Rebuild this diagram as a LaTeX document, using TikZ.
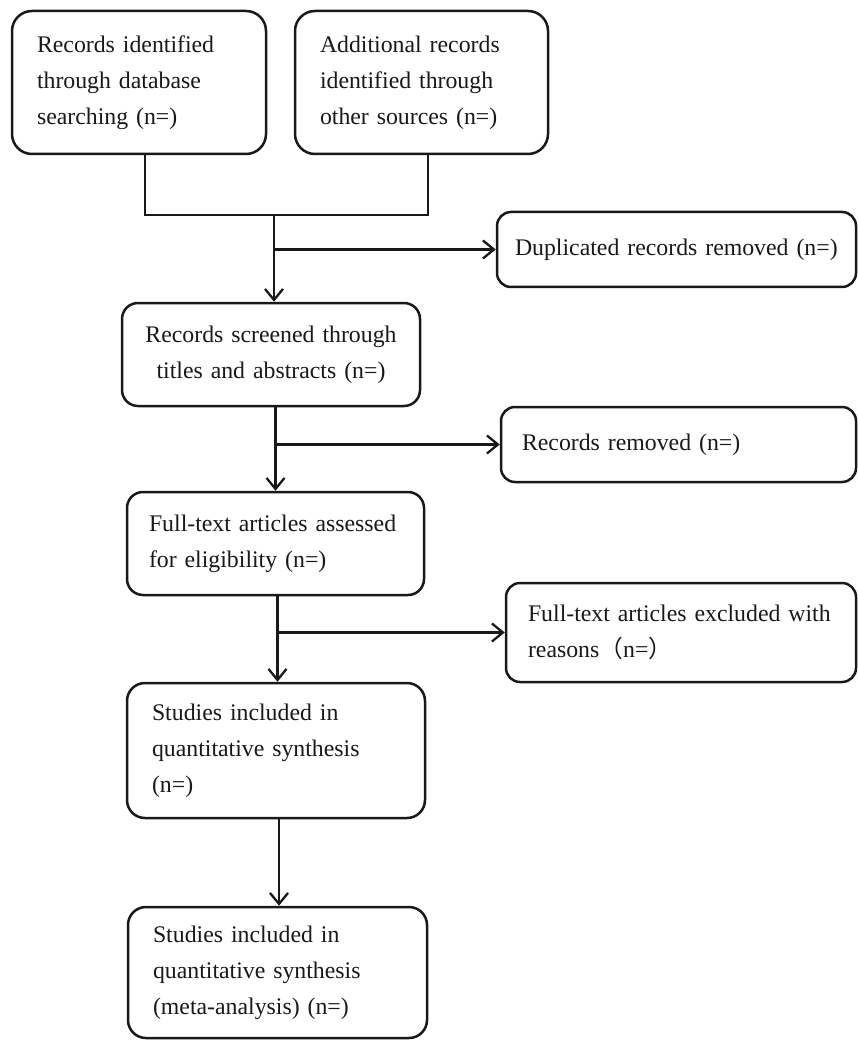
\documentclass[tikz,border=0pt]{standalone}
\usepackage{fontspec}
\setmainfont{Liberation Serif}
\newfontfamily\cjk{Noto Sans CJK SC}
\usetikzlibrary{arrows.meta,calc}
\tikzset{
  box/.style={draw=black!90, line width=2.5pt, rounded corners=#1, align=left,
    font=\fontsize{23.8}{36}\selectfont, inner ysep=0pt, text=black!90},
  box/.default=15pt,
  conn/.style={draw=black!90, line width=2.5pt},
  arr/.style={conn, -{Straight Barb[length=11pt,width=18pt,line width=2.3pt]}}
}
\begin{document}
\begin{tikzpicture}[x=1pt,y=-1pt]
\useasboundingbox (0,0) rectangle (858,1040);
\fill[white] (0,0) rectangle (858,1040);

\node[box=20pt, minimum width=254pt, minimum height=143pt, text width=204pt, inner xsep=25pt]
  (A) at (139,82.5) {Records identified\\through database\\searching (n=)};
\node[box=20pt, minimum width=253pt, minimum height=143pt, text width=203pt, inner xsep=25pt]
  (B) at (421.5,82.5) {Additional records\\identified through\\other sources (n=)};

\node[box=14pt, minimum width=359pt, minimum height=75pt, text width=323pt, inner xsep=18pt]
  (dup) at (676.5,249.5) {Duplicated records removed (n=)};

\node[box=16pt, align=center, minimum width=298pt, minimum height=103pt, text width=256pt, inner xsep=21pt]
  (C) at (271,354.5) {Records screened through\\titles and abstracts (n=)};

\node[box=14pt, minimum width=355pt, minimum height=75pt, text width=313pt, inner xsep=21pt]
  (rem) at (678.5,444.5) {Records removed (n=)};

\node[box=16pt, minimum width=297pt, minimum height=103pt, text width=253pt, inner xsep=22pt]
  (D) at (275.5,543.5) {Full-text articles assessed\\for eligibility (n=)};

\node[box=14pt, minimum width=350pt, minimum height=99pt, text width=306pt, inner xsep=22pt]
  (exc) at (681,632.5) {Full-text articles excluded with\\reasons{\cjk （}n={\cjk ）}};

\node[box=18pt, minimum width=298pt, minimum height=135pt, text width=248pt, inner xsep=25pt]
  (E) at (276,750.5) {Studies included in\\quantitative synthesis\\(n=)};

\node[box=18pt, minimum width=299pt, minimum height=131pt, text width=249pt, inner xsep=25pt]
  (F) at (277.5,972.5) {Studies included in\\quantitative synthesis\\(meta-analysis) (n=)};

\coordinate (j1) at (274,215);
\draw[conn] ([xshift=6pt]A.south) |- (j1) -| ([xshift=6.5pt]B.south);
\draw[arr] (j1) -- (C.north -| j1);
\draw[arr] (j1 |- dup.west) -- (dup.west);

\draw[arr] (C.south -| D.north) -- (D.north);
\draw[arr] (D.north |- rem.west) -- (rem.west);

\draw[arr] ([xshift=2pt]D.south) -- ([xshift=2pt]D.south |- E.north);
\draw[arr] ([xshift=2pt]D.south |- exc.west) -- (exc.west);

\draw[arr] ([xshift=3pt]E.south) -- ([xshift=3pt]E.south |- F.north);
\end{tikzpicture}
\end{document}
